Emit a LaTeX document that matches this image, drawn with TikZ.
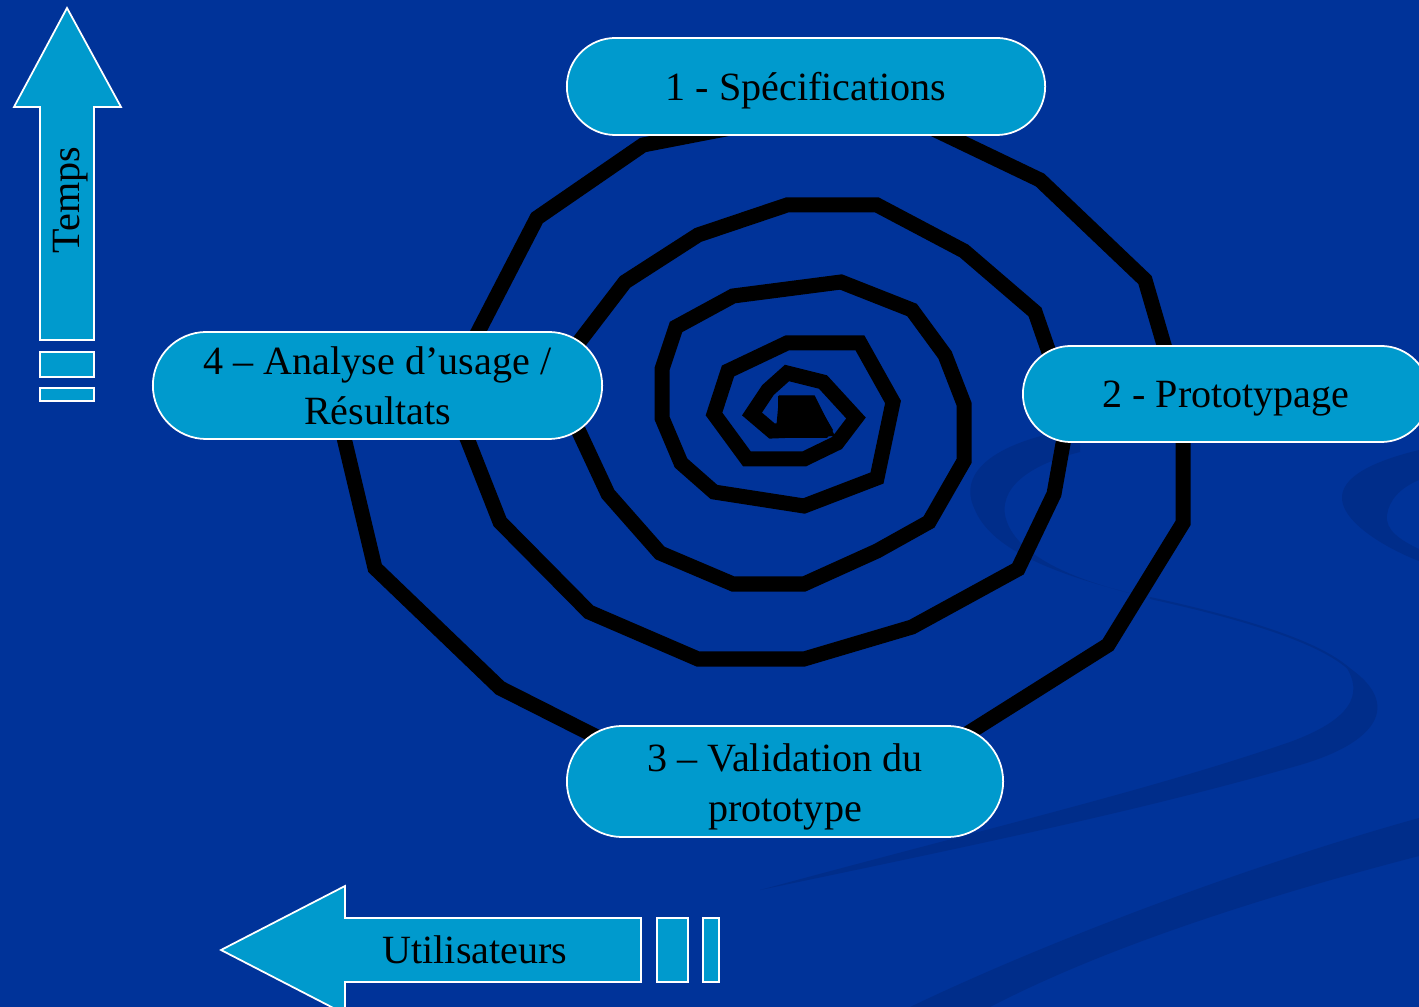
\documentclass[tikz,border=0pt]{standalone}
\usepackage{fontspec}
\setmainfont{Liberation Serif}
\usetikzlibrary{shapes.misc}
\definecolor{bgblue}{RGB}{0,51,153}
\definecolor{swooshblue}{RGB}{0,45,138}
\definecolor{boxblue}{RGB}{0,154,205}
\begin{document}
\begin{tikzpicture}[x=0.01cm,y=-0.01cm,
  lbl/.style={font=\fontsize{11.4}{14.2}\selectfont, text=black},
  stage/.style={rounded rectangle, draw=white, line width=0.5pt, fill=boxblue, inner sep=0pt, align=center, lbl},
  oneline/.style={text height=1.0em, text depth=0.22em},
  arrowbody/.style={draw=white, line width=0.5pt, fill=boxblue},
  spiralline/.style={line width=0.15cm, black, line join=miter},
  swoosh/.style={fill=swooshblue}]
\fill[bgblue] (0,0) rectangle (1419,1007);
\useasboundingbox (0,0) rectangle (1419,1007);
\begin{scope}
\clip (0,0) rectangle (1419,1007);
% background swooshes
\fill[swoosh] (1419,450) .. controls (1370,462) and (1340,478) .. (1342,500)
  .. controls (1345,525) and (1390,550) .. (1419,561) -- (1419,549)
  .. controls (1400,540) and (1385,530) .. (1387,515)
  .. controls (1389,500) and (1400,488) .. (1419,480) -- cycle;
\fill[swoosh] (1080,428) .. controls (1000,440) and (955,470) .. (975,510)
  .. controls (990,545) and (1040,572) .. (1150,598)
  .. controls (1060,578) and (1012,550) .. (1005,515)
  .. controls (1000,482) and (1040,462) .. (1080,452) -- cycle;
\draw[swooshblue, line width=0.02cm] (1150,598) .. controls (1250,620) and (1330,645) .. (1355,675);
\fill[swoosh] (1345,665) .. controls (1400,700) and (1385,740) .. (1300,765)
  .. controls (1150,808) and (1000,840) .. (760,890)
  .. controls (1000,825) and (1150,790) .. (1290,742)
  .. controls (1350,720) and (1365,695) .. (1345,665) -- cycle;
\fill[swoosh] (1419,818) -- (1419,856) .. controls (1250,900) and (1100,950) .. (990,1007)
  -- (910,1007) .. controls (1050,940) and (1250,865) .. (1419,818) -- cycle;
% spiral
\fill[black] (778,396) -- (813,396) -- (833,430) -- (827,438) -- (790,438) -- (778,426) -- cycle;
\draw[spiralline] (784,425) -- (786,403) -- (810,403) -- (823,429) -- (772,431)
  -- (752,414) -- (768,390) -- (787,373) -- (823,382) -- (856,418) -- (837,443)
  -- (804,459) -- (747,459) -- (714,414) -- (728,371) -- (787,343) -- (860,343)
  -- (893,402) -- (877,478) -- (804,506) -- (714,492) -- (681,463) -- (662,418)
  -- (662,369) -- (676,327) -- (733,296) -- (841,282) -- (912,310) -- (945,355)
  -- (964,404) -- (964,461) -- (929,522) -- (877,551) -- (804,584) -- (733,584)
  -- (660,553) -- (608,494) -- (553,376) -- (625,282) -- (698,235) -- (787,205)
  -- (877,205) -- (964,251) -- (1035,312) -- (1069,410) -- (1054,494) -- (1018,569)
  -- (912,627) -- (804,659) -- (698,659) -- (589,612) -- (500,522) -- (448,390)
  -- (537,218) -- (643,145) -- (710,132) -- (875,101) -- (1040,180) -- (1145,280)
  -- (1183,410) -- (1183,523) -- (1108,645) -- (870,795) -- (690,784) -- (593,735)
  -- (500,688) -- (375,568) -- (345,442) -- (335,395);
% stages
\node[stage, oneline, minimum width=4.78cm, minimum height=0.97cm] (spec) at (806,86.5) {1 - Spécifications};
\node[stage, oneline, minimum width=4.06cm, minimum height=0.96cm] (proto) at (1226,394) {2 - Prototypage};
\node[stage, text height=25pt, text depth=0.22em, minimum width=4.36cm, minimum height=1.11cm] (valid) at (785,781.5) {3 – Validation du\\prototype};
\node[stage, minimum width=4.49cm, minimum height=1.07cm] (analyse) at (377.5,385.5) {4 – Analyse d’usage /\\Résultats};
% time arrow
\draw[arrowbody] (40,340) -- (40,107) -- (14,107) -- (67,8) -- (121,107) -- (94,107) -- (94,340) -- cycle;
\draw[arrowbody] (40,352) rectangle (94,377);
\draw[arrowbody] (40,388) rectangle (94,401);
\node[lbl, rotate=90] (temps) at (71,200) {Temps};
% users arrow
\draw[arrowbody] (641,918) -- (345,918) -- (345,886) -- (221,950) -- (345,1014) -- (345,982) -- (641,982) -- cycle;
\draw[arrowbody] (657,918) rectangle (688,982);
\draw[arrowbody] (703,918) rectangle (719,982);
\node[lbl] (users) at (475,950) {Utilisateurs};
\end{scope}
\end{tikzpicture}
\end{document}
